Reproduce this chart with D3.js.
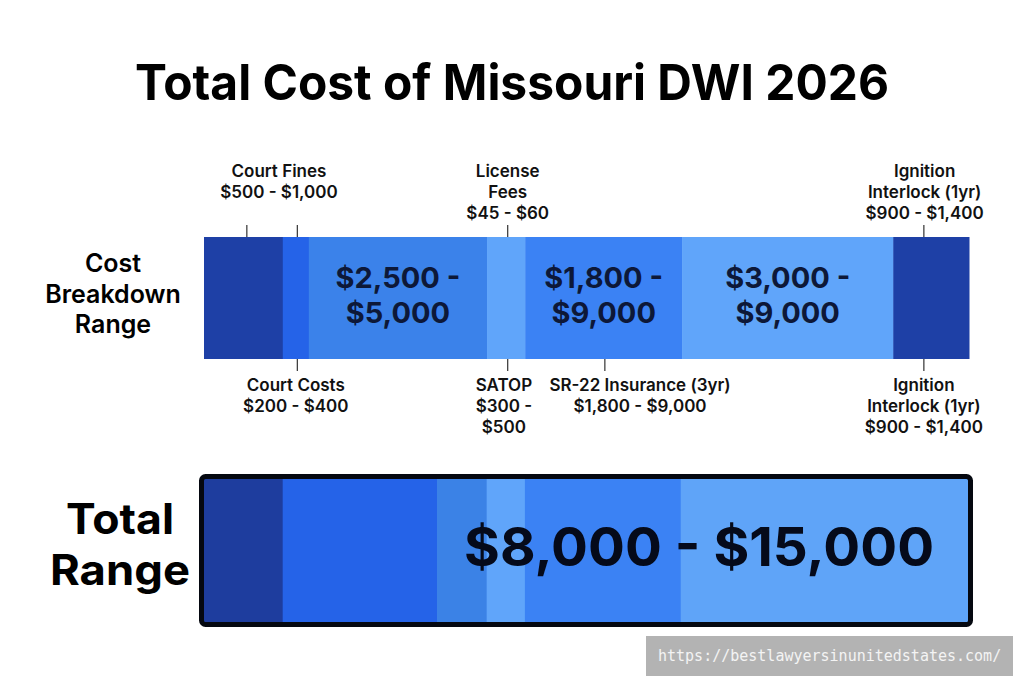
<!DOCTYPE html>
<html>
<head>
<meta charset="utf-8">
<script src="https://cdn.jsdelivr.net/npm/d3@7"></script>
<style>
  html, body { margin: 0; padding: 0; background: #fff; }
  svg { display: block; font-family: Inter, "Noto Sans", sans-serif; }
</style>
</head>
<body>
<div id="chart"></div>
<script>
// shares of the bar (percent of bar width)
var breakdownShares = [10.3, 3.4, 23.3, 5.0, 20.5, 27.6, 9.9];
var breakdownInner = [[], [], ["$2,500 -", "$5,000"], [], ["$1,800 -", "$9,000"], ["$3,000 -", "$9,000"], []];
var totalShares = [10.3, 20.2, 6.5, 5.0, 20.4, 37.6];
var totalText = "$8,000 - $15,000";
var totalTextAt = 64.8;

// callouts above the bar
var aboveLines = [["Court Fines", "$500 - $1,000"], ["License", "Fees", "$45 - $60"], ["Ignition", "Interlock (1yr)", "$900 - $1,400"]];
var aboveAt = [9.8, 39.7, 94.2];
var aboveTicks = [5.6, 12.2, 39.7, 94.1];

// callouts below the bar
var belowLines = [["Court Costs", "$200 - $400"], ["SATOP", "$300 -", "$500"], ["SR-22 Insurance (3yr)", "$1,800 - $9,000"], ["Ignition", "Interlock (1yr)", "$900 - $1,400"]];
var belowAt = [12.0, 39.2, 57.0, 94.1];
var belowTicks = [12.2, 39.7, 52.4, 94.1];

var breakdownColors = ["#1e40a6", "#2563e8", "#3b82ea", "#60a5fa", "#3b82f4", "#60a5fa", "#1e40a6"];
var totalColors = ["#1e3d9e", "#2563e8", "#3b82e6", "#60a5fa", "#3b82f4", "#5fa4f8"];

// multi-line text as one <text> with tspans
function multiline(sel, lines, cx, y0, dy){
	var t = sel.append("text")
		.attr("x", cx)
		.attr("y", y0)
		.attr("text-anchor", "middle");
	t.selectAll("tspan")
		.data(lines)
		.enter()
		.append("tspan")
			.attr("x", cx)
			.attr("y", function(d, j){ return y0 + j * dy; })
			.text(function(d){ return d; });
	return t;
}

window.onload = function(){
	var w = 1024, h = 687;

	var svg = d3.select("#chart")
		.append("svg")
		.attr("width", w)
		.attr("height", h);

	// title
	svg.append("text")
		.attr("x", 512)
		.attr("y", 100)
		.attr("text-anchor", "middle")
		.attr("font-size", 50)
		.attr("font-weight", 700)
		.attr("fill", "#000")
		.attr("textLength", 754)
		.attr("lengthAdjust", "spacingAndGlyphs")
		.text("Total Cost of Missouri DWI 2026");

	// ---- breakdown bar ----
	var x = d3.scaleLinear().domain([0, 100]).range([204, 969]);
	var barTop = 237, barBottom = 359;

	var starts = [0];
	breakdownShares.forEach(function(d, i){ starts.push(starts[i] + d); });

	var seg = svg.append("g").attr("class", "breakdown");
	seg.selectAll("rect")
		.data(breakdownShares)
		.enter()
		.append("rect")
			.attr("x", function(d, i){ return x(starts[i]); })
			.attr("y", barTop)
			.attr("width", function(d){ return x(d) - x(0) + 0.5; })
			.attr("height", barBottom - barTop)
			.attr("fill", function(d, i){ return breakdownColors[i]; });

	breakdownInner.forEach(function(lines, i){
		if (!lines.length) return;
		multiline(seg, lines, x(starts[i] + breakdownShares[i] / 2), 288, 35)
			.attr("font-size", 29)
			.attr("font-weight", 700)
			.attr("fill", "#0d1838");
	});

	// ticks
	svg.append("g").selectAll("line")
		.data(aboveTicks)
		.enter()
		.append("line")
			.attr("x1", function(d){ return x(d); })
			.attr("x2", function(d){ return x(d); })
			.attr("y1", 225)
			.attr("y2", barTop)
			.attr("stroke", "#333")
			.attr("stroke-width", 1.2);

	svg.append("g").selectAll("line")
		.data(belowTicks)
		.enter()
		.append("line")
			.attr("x1", function(d){ return x(d); })
			.attr("x2", function(d){ return x(d); })
			.attr("y1", barBottom)
			.attr("y2", 371)
			.attr("stroke", "#333")
			.attr("stroke-width", 1.2);

	// callout labels
	aboveLines.forEach(function(lines, i){
		multiline(svg, lines, x(aboveAt[i]), 177, 21)
			.attr("font-size", 17)
			.attr("font-weight", 600)
			.attr("fill", "#111");
	});

	belowLines.forEach(function(lines, i){
		multiline(svg, lines, x(belowAt[i]), 391, 21)
			.attr("font-size", 17)
			.attr("font-weight", 600)
			.attr("fill", "#111");
	});

	// left label
	multiline(svg, ["Cost", "Breakdown", "Range"], 113, 272, 30.5)
		.attr("font-size", 25)
		.attr("font-weight", 600)
		.attr("fill", "#000");

	// ---- total bar ----
	var x2 = d3.scaleLinear().domain([0, 100]).range([204, 968]);
	var tStarts = [0];
	totalShares.forEach(function(d, i){ tStarts.push(tStarts[i] + d); });

	var tot = svg.append("g").attr("class", "total");
	tot.selectAll("rect.seg")
		.data(totalShares)
		.enter()
		.append("rect")
			.attr("class", "seg")
			.attr("x", function(d, i){ return x2(tStarts[i]); })
			.attr("y", 479)
			.attr("width", function(d){ return x2(d) - x2(0) + 0.5; })
			.attr("height", 143)
			.attr("fill", function(d, i){ return totalColors[i]; });

	tot.append("rect")
		.attr("x", 201.5)
		.attr("y", 476.5)
		.attr("width", 769)
		.attr("height", 148)
		.attr("rx", 4)
		.attr("fill", "none")
		.attr("stroke", "#050810")
		.attr("stroke-width", 5);

	tot.append("text")
		.attr("x", x2(totalTextAt))
		.attr("y", 566)
		.attr("text-anchor", "middle")
		.attr("font-size", 54)
		.attr("font-weight", 700)
		.attr("fill", "#050a1a")
		.attr("textLength", 470)
		.attr("lengthAdjust", "spacingAndGlyphs")
		.text(totalText);

	// "Total / Range" left label, widened to the reference's letter width
	[["Total", 108], ["Range", 140]].forEach(function(d, j){
		svg.append("text")
			.attr("x", 120)
			.attr("y", 534 + j * 51)
			.attr("text-anchor", "middle")
			.attr("font-size", 42)
			.attr("font-weight", 700)
			.attr("fill", "#000")
			.attr("textLength", d[1])
			.attr("lengthAdjust", "spacingAndGlyphs")
			.text(d[0]);
	});

	// watermark
	svg.append("rect")
		.attr("x", 646)
		.attr("y", 636)
		.attr("width", 367)
		.attr("height", 40)
		.attr("fill", "#b3b3b3");
	svg.append("text")
		.attr("x", 658)
		.attr("y", 661)
		.attr("font-family", "'DejaVu Sans Mono', monospace")
		.attr("font-size", 15)
		.attr("fill", "#f4f4f4")
		.text("https://bestlawyersinunitedstates.com/");
};
</script>
</body>
</html>
